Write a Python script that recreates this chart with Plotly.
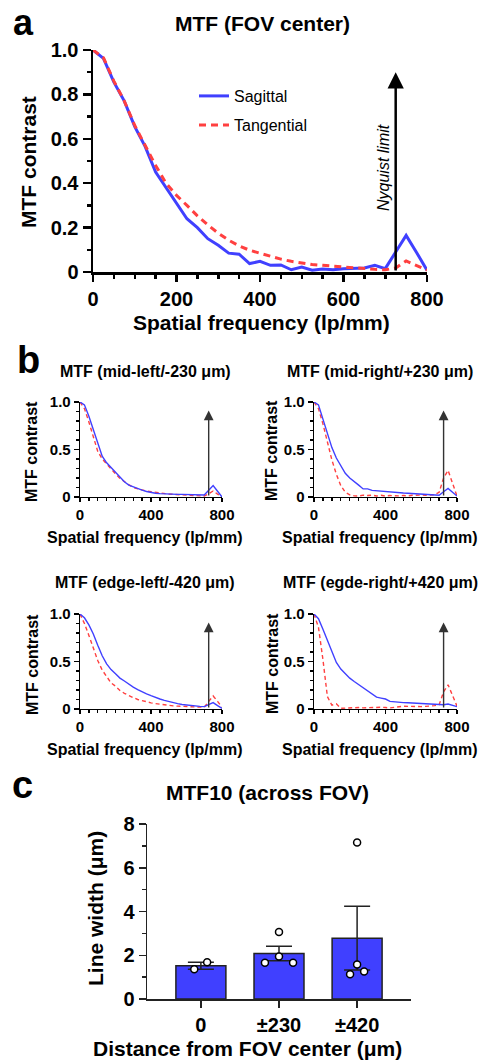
import numpy as np
import plotly.graph_objects as go

W, H = 479, 1063

# ---------------- data ----------------
freq = [0, 25, 50, 75, 100, 125, 150, 175, 200, 225, 250, 275, 300, 325, 350, 375, 400,
        425, 450, 475, 500, 525, 550, 575, 600, 625, 650, 675, 700, 725, 750, 775, 800]

center_sag = [1.0, 0.962, 0.855, 0.77, 0.655, 0.565, 0.45, 0.38, 0.305, 0.24, 0.2, 0.15, 0.12,
              0.085, 0.08, 0.038, 0.048, 0.03, 0.032, 0.01, 0.022, 0.008, 0.014, 0.01, 0.015,
              0.016, 0.018, 0.03, 0.015, 0.09, 0.165, 0.088, 0.008]
center_tan = [1.0, 0.965, 0.86, 0.77, 0.66, 0.57, 0.48, 0.4, 0.345, 0.3, 0.253, 0.212, 0.175,
              0.143, 0.118, 0.098, 0.085, 0.07, 0.058, 0.048, 0.04, 0.034, 0.03, 0.026, 0.022,
              0.019, 0.016, 0.012, 0.01, 0.018, 0.05, 0.03, 0.008]

midleft_sag = [1.0, 0.97, 0.85, 0.705, 0.56, 0.43, 0.36, 0.31, 0.26, 0.2, 0.16, 0.125, 0.105,
               0.085, 0.073, 0.058, 0.047, 0.04, 0.035, 0.032, 0.03, 0.028, 0.028, 0.028, 0.028,
               0.026, 0.024, 0.022, 0.021, 0.07, 0.12, 0.06, 0.0]
midleft_tan = [1.0, 0.93, 0.79, 0.63, 0.48, 0.4, 0.345, 0.29, 0.245, 0.195, 0.16, 0.13, 0.1,
               0.085, 0.07, 0.062, 0.056, 0.048, 0.04, 0.035, 0.031, 0.028, 0.025, 0.022, 0.02,
               0.018, 0.015, 0.012, 0.01, 0.035, 0.063, 0.03, 0.0]

midright_sag = [1.0, 0.97, 0.82, 0.68, 0.52, 0.41, 0.33, 0.25, 0.2, 0.165, 0.125, 0.085, 0.085,
                0.07, 0.065, 0.06, 0.055, 0.05, 0.047, 0.045, 0.042, 0.04, 0.037, 0.034, 0.032,
                0.028, 0.025, 0.022, 0.018, 0.055, 0.09, 0.05, 0.01]
midright_tan = [1.0, 0.93, 0.77, 0.57, 0.39, 0.24, 0.12, 0.05, 0.022, 0.012, 0.01, 0.02, 0.015,
                0.02, 0.01, 0.018, 0.01, 0.015, 0.01, 0.012, 0.015, 0.012, 0.018, 0.015, 0.02,
                0.018, 0.022, 0.025, 0.05, 0.2, 0.28, 0.15, 0.01]

edgeleft_sag = [1.0, 0.96, 0.885, 0.79, 0.67, 0.56, 0.475, 0.415, 0.37, 0.325, 0.295, 0.26, 0.23,
                0.205, 0.18, 0.16, 0.14, 0.12, 0.105, 0.09, 0.077, 0.066, 0.056, 0.048, 0.041,
                0.036, 0.032, 0.028, 0.025, 0.045, 0.067, 0.035, 0.007]
edgeleft_tan = [1.0, 0.9, 0.775, 0.64, 0.51, 0.41, 0.335, 0.275, 0.24, 0.195, 0.165, 0.14, 0.12,
                0.1, 0.087, 0.075, 0.065, 0.057, 0.05, 0.043, 0.038, 0.033, 0.03, 0.027, 0.025,
                0.023, 0.021, 0.02, 0.018, 0.08, 0.137, 0.08, 0.018]

edgeright_sag = [1.0, 0.95, 0.84, 0.72, 0.6, 0.49, 0.42, 0.37, 0.325, 0.29, 0.255, 0.225, 0.19,
                 0.155, 0.125, 0.115, 0.105, 0.08, 0.074, 0.07, 0.067, 0.065, 0.062, 0.058, 0.055,
                 0.052, 0.048, 0.045, 0.042, 0.045, 0.052, 0.035, 0.025]
edgeright_tan = [1.0, 0.86, 0.52, 0.13, 0.04, 0.055, 0.008, 0.01, 0.015, 0.01, 0.015, 0.012, 0.015,
                 0.012, 0.015, 0.018, 0.015, 0.012, 0.018, 0.025, 0.03, 0.028, 0.026, 0.025, 0.025,
                 0.028, 0.03, 0.035, 0.045, 0.18, 0.255, 0.14, 0.03]

nyquist = 725          # lp/mm
nyquist_arrow_top = 0.9

sub_titles = ["MTF (mid-left/-230 μm)", "MTF (mid-right/+230 μm)",
              "MTF (edge-left/-420 μm)", "MTF (egde-right/+420 μm)"]

# panel c
mtf10_categories = ["0", "±230", "±420"]
mtf10_points = [[1.36, 1.68],
                [1.66, 1.94, 1.66, 3.06],
                [1.13, 1.58, 1.26, 7.15]]
point_jitter = [[-0.085, 0.08],
                [-0.18, 0.0, 0.18, 0.0],
                [-0.09, 0.0, 0.09, 0.0]]

# ---------------- style ----------------
BLUE = "#4040ff"
RED = "#ff4040"
FONT = "Liberation Sans, Arial, Helvetica, sans-serif"


def px(x):
    return x / W


def py(y):
    return 1 - y / H


fig = go.Figure()

# ---------- panel a ----------
fig.add_trace(go.Scatter(x=freq, y=center_sag, mode="lines", name="Sagittal",
                         line=dict(color=BLUE, width=3), xaxis="x", yaxis="y",
                         legend="legend"))
fig.add_trace(go.Scatter(x=freq, y=center_tan, mode="lines", name="Tangential",
                         line=dict(color=RED, width=3, dash="7px,5px"), xaxis="x", yaxis="y",
                         legend="legend2"))

# ---------- panel b ----------
sub_data = [(midleft_sag, midleft_tan), (midright_sag, midright_tan),
            (edgeleft_sag, edgeleft_tan), (edgeright_sag, edgeright_tan)]
for i, (s, t) in enumerate(sub_data):
    k = i + 2
    fig.add_trace(go.Scatter(x=freq, y=t, mode="lines", showlegend=False,
                             line=dict(color=RED, width=1.4, dash="4px,3px"),
                             xaxis=f"x{k}", yaxis=f"y{k}"))
    fig.add_trace(go.Scatter(x=freq, y=s, mode="lines", showlegend=False,
                             line=dict(color=BLUE, width=1.4),
                             xaxis=f"x{k}", yaxis=f"y{k}"))

# ---------- panel c ----------
means = [float(np.mean(p)) for p in mtf10_points]
sems = [float(np.std(p, ddof=1) / np.sqrt(len(p))) for p in mtf10_points]
cat_pos = list(range(len(mtf10_categories)))
fig.add_trace(go.Bar(x=cat_pos, y=means, width=0.64, showlegend=False,
                     marker=dict(color=BLUE, line=dict(color="#222", width=1.5)),
                     error_y=dict(type="data", array=sems, visible=True, color="#222",
                                  thickness=1.5, width=13),
                     xaxis="x6", yaxis="y6"))
px_all, py_all = [], []
for ci, (pts, jit) in enumerate(zip(mtf10_points, point_jitter)):
    for v, j in zip(pts, jit):
        px_all.append(ci + j)
        py_all.append(v)
fig.add_trace(go.Scatter(x=px_all, y=py_all, mode="markers", showlegend=False,
                         marker=dict(symbol="circle", size=7, color="white",
                                     line=dict(color="black", width=1.5)),
                         cliponaxis=False, xaxis="x6", yaxis="y6"))

# ---------------- axes ----------------
def xax(domain, anchor, size, lw, tl, mtl):
    return dict(domain=domain, anchor=anchor, range=[0, 800], automargin=False,
                tickmode="array", tickvals=[0, 200, 400, 600, 800] if size > 16 else [0, 400, 800],
                ticks="outside", ticklen=tl, tickwidth=lw, tickcolor="black",
                minor=dict(dtick=50, tick0=0, ticks="outside", ticklen=mtl, tickwidth=lw,
                           tickcolor="black"),
                showline=True, linewidth=lw, linecolor="black", showgrid=False, zeroline=False,
                tickfont=dict(family=FONT, size=size, color="black", weight="bold"),
                fixedrange=True)


def yax(domain, anchor, size, lw, tl, mtl, vals, texts):
    return dict(domain=domain, anchor=anchor, range=[0, 1.0], automargin=False,
                tickmode="array", tickvals=vals, ticktext=texts,
                ticks="outside", ticklen=tl, tickwidth=lw, tickcolor="black",
                minor=dict(dtick=0.1, tick0=0, ticks="outside", ticklen=mtl, tickwidth=lw,
                           tickcolor="black"),
                showline=True, linewidth=lw, linecolor="black", showgrid=False, zeroline=False,
                tickfont=dict(family=FONT, size=size, color="black", weight="bold"),
                fixedrange=True)


a_x = [px(93), px(427)]
a_y = [py(272), py(50)]
b_xl = [px(80), px(222)]
b_xr = [px(314), px(457)]
b_yt = [py(497), py(402)]
b_yb = [py(709), py(614)]

layout = dict(
    template="simple_white",
    width=W, height=H, autosize=False,
    margin=dict(l=0, r=0, t=0, b=0, pad=0, autoexpand=False),
    paper_bgcolor="white", plot_bgcolor="white",
    font=dict(family=FONT, color="black"),
    hovermode=False,
    xaxis=xax(a_x, "y", 20, 2.5, 7, 4),
    yaxis=yax(a_y, "x", 20, 2.5, 8, 4, [0, 0.2, 0.4, 0.6, 0.8, 1.0],
              ["0", "0.2", "0.4", "0.6", "0.8", "1.0"]),
    legend=dict(x=px(194), y=py(96), xanchor="left", yanchor="middle",
                bgcolor="rgba(0,0,0,0)", font=dict(family=FONT, size=16, color="black")),
    legend2=dict(x=px(194), y=py(125), xanchor="left", yanchor="middle",
                 bgcolor="rgba(0,0,0,0)", font=dict(family=FONT, size=16, color="black")),
    showlegend=True,
)
sub_dom = [(b_xl, b_yt), (b_xr, b_yt), (b_xl, b_yb), (b_xr, b_yb)]
for i, (dx, dy) in enumerate(sub_dom):
    k = i + 2
    layout[f"xaxis{k}"] = xax(dx, f"y{k}", 15, 1.3, 4, 3)
    layout[f"yaxis{k}"] = yax(dy, f"x{k}", 15, 1.3, 5, 3, [0, 0.5, 1.0], ["0", "0.5", "1.0"])

layout["xaxis6"] = dict(domain=[px(147), px(411)], anchor="y6", range=[-0.69, 2.69],
                        automargin=False,
                        tickmode="array", tickvals=cat_pos, ticktext=mtf10_categories,
                        ticks="outside", ticklen=7, tickwidth=1.5, tickcolor="#222",
                        showline=True, linewidth=1.5, linecolor="#222", showgrid=False,
                        zeroline=False, fixedrange=True,
                        tickfont=dict(family=FONT, size=20, color="black", weight="bold"))
layout["yaxis6"] = dict(domain=[py(999), py(824)], anchor="x6", range=[0, 8],
                        automargin=False,
                        tickmode="array", tickvals=[0, 2, 4, 6, 8],
                        ticks="outside", ticklen=7, tickwidth=1.5, tickcolor="#222",
                        minor=dict(dtick=1, tick0=0, ticks="outside", ticklen=4, tickwidth=1.5,
                                   tickcolor="#222"),
                        showline=True, linewidth=1.5, linecolor="#222", showgrid=False,
                        zeroline=False, fixedrange=True,
                        tickfont=dict(family=FONT, size=20, color="black", weight="bold"))

fig.update_layout(**layout)

# ---------------- text annotations ----------------
ann = []


def txt(t, x, y, size, angle=0, bold=True, italic=False, xanchor="center", yanchor="middle"):
    s = t
    if bold:
        s = f"<b>{s}</b>"
    if italic:
        s = f"<i>{s}</i>"
    ann.append(dict(text=s, x=px(x), y=py(y), xref="paper", yref="paper", showarrow=False,
                    textangle=angle, xanchor=xanchor, yanchor=yanchor,
                    font=dict(family=FONT, size=size, color="black")))


# panel letters
txt("a", 23, 0, 36, yanchor="top")
txt("b", 28, 360, 38)
txt("c", 22, 785, 38)

# panel a
txt("MTF (FOV center)", 262, 23, 21)
txt("Spatial frequency (lp/mm)", 261, 322, 21)
txt("MTF contrast", 28, 162, 21, angle=-90)
txt("Nyquist limit", 383, 168, 16, angle=-90, bold=False, italic=True)

# panel b
cx = [145, 380, 145, 380]
ty = [371, 371, 582, 582]
xty = [537, 537, 749, 749]
yx = [32, 272, 32, 272]
yty = [451, 451, 664, 664]
for i in range(4):
    txt(sub_titles[i], cx[i], ty[i], 16)
    txt("Spatial frequency (lp/mm)", cx[i], xty[i], 16)
    txt("MTF contrast", yx[i], yty[i], 16, angle=-90)

# panel c
txt("MTF10 (across FOV)", 267, 792, 21)
txt("Line width (μm)", 95, 909, 21, angle=-90)
txt("Distance from FOV center (μm)", 248, 1048, 21)

# Nyquist arrows
ann.append(dict(x=nyquist, y=nyquist_arrow_top, ax=nyquist, ay=0, xref="x", yref="y",
                axref="x", ayref="y", showarrow=True, arrowhead=2, arrowsize=1.3,
                arrowwidth=2.5, arrowcolor="black", text=""))
for k in range(2, 6):
    ann.append(dict(x=nyquist, y=0.91, ax=nyquist, ay=0, xref=f"x{k}", yref=f"y{k}",
                    axref=f"x{k}", ayref=f"y{k}", showarrow=True, arrowhead=2, arrowsize=1.4,
                    arrowwidth=1.4, arrowcolor="#333", text=""))

fig.update_layout(annotations=ann)
fig.write_html("out.html",
               config={"displayModeBar": False, "staticPlot": True},
               post_script="document.body.style.margin='0px';"
                           "document.body.style.overflow='hidden';")
